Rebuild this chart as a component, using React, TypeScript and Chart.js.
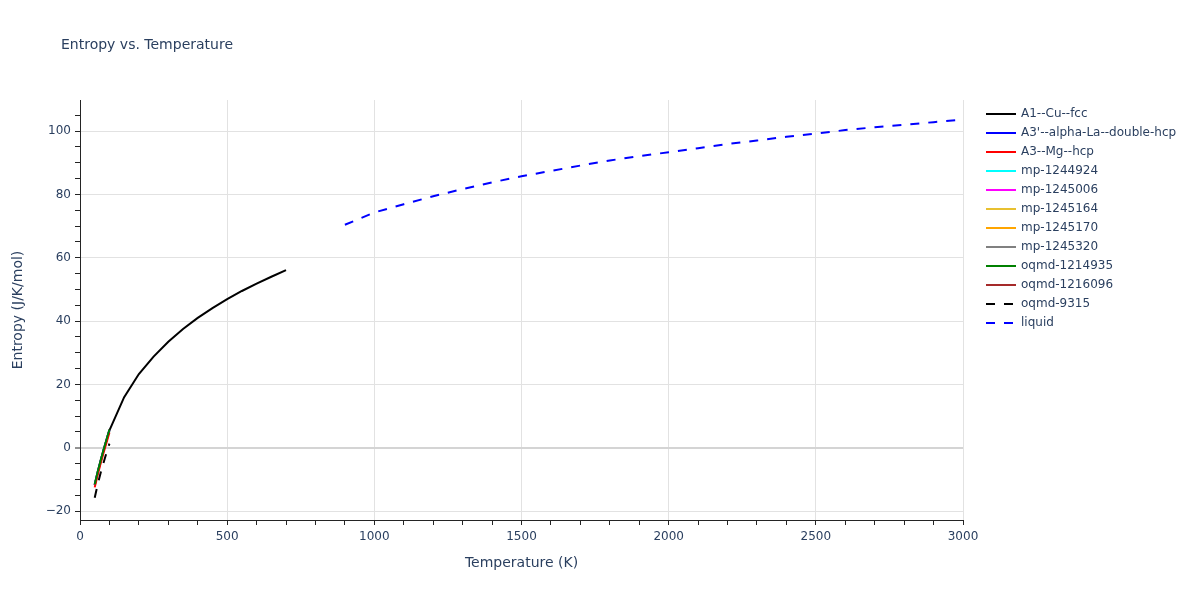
import React, { useEffect, useRef } from 'react';
import { Chart, registerables } from 'chart.js';

Chart.register(...registerables);

const chartTitle = 'Entropy vs. Temperature';
const xAxisTitle = 'Temperature (K)';
const yAxisTitle = 'Entropy (J/K/mol)';

const xMin = 0;
const xMax = 3000;
const yMin = -22.8;
const yMax = 109.8;
const xMinorStep = 100;
const xMajorStep = 500;
const yMinorStep = 5;
const yMajorStep = 20;

const lowTemps = [50, 60, 70, 80, 90, 100];
const a1Temps = [100, 150, 200, 250, 300, 350, 400, 450, 500, 550, 600, 650, 700];
const liquidTemps = [900, 1000, 1100, 1200, 1300, 1400, 1500, 1600, 1700, 1800, 1900, 2000, 2100, 2200, 2300, 2400, 2500, 2600, 2700, 2800, 2900, 3000];

const a1CuFccEntropy = [5.5, 16.0, 23.3, 28.8, 33.5, 37.5, 41.0, 44.1, 46.9, 49.5, 51.8, 54.0, 56.1];
const a3DoubleHcpEntropy = [-11.7, -7.8, -4.2, -0.8, 2.4, 5.6];
const a3MgHcpEntropy = [-12.5, -8.6, -5.0, -1.6, 1.6, 4.8];
const mp1244924Entropy = [-11.8, -7.9, -4.3, -0.9, 2.3, 5.5];
const mp1245006Entropy = [-11.7, -7.8, -4.2, -0.8, 2.4, 5.6];
const mp1245164Entropy = [-11.8, -7.9, -4.3, -0.9, 2.3, 5.5];
const mp1245170Entropy = [-11.7, -7.8, -4.2, -0.8, 2.4, 5.6];
const mp1245320Entropy = [-11.8, -7.9, -4.3, -0.9, 2.3, 5.5];
const oqmd1214935Entropy = [-11.5, -7.6, -4.0, -0.6, 2.6, 5.8];
const oqmd1216096Entropy = [-11.7, -7.8, -4.2, -0.8, 2.4, 5.6];
const oqmd9315Entropy = [-15.8, -11.6, -8.0, -4.7, -1.6, 1.3];
const liquidEntropy = [70.4, 74.3, 76.9, 79.4, 81.7, 83.8, 85.7, 87.4, 89.1, 90.7, 92.1, 93.3, 94.6, 95.9, 97.0, 98.2, 99.2, 100.3, 101.2, 102.0, 102.8, 103.6];

const seriesNames = [
  'A1--Cu--fcc', "A3'--alpha-La--double-hcp", 'A3--Mg--hcp', 'mp-1244924', 'mp-1245006',
  'mp-1245164', 'mp-1245170', 'mp-1245320', 'oqmd-1214935', 'oqmd-1216096', 'oqmd-9315', 'liquid',
];
const seriesColors = [
  '#000000', '#0000ff', '#ff0000', '#00ffff', '#ff00ff',
  '#e8c030', '#ffa500', '#808080', '#008000', '#a52a2a', '#000000', '#0000ff',
];
const seriesDashed = [false, false, false, false, false, false, false, false, false, false, true, true];
const seriesTemps = [a1Temps, lowTemps, lowTemps, lowTemps, lowTemps, lowTemps, lowTemps, lowTemps, lowTemps, lowTemps, lowTemps, liquidTemps];
const seriesValues = [
  a1CuFccEntropy, a3DoubleHcpEntropy, a3MgHcpEntropy, mp1244924Entropy, mp1245006Entropy,
  mp1245164Entropy, mp1245170Entropy, mp1245320Entropy, oqmd1214935Entropy, oqmd1216096Entropy,
  oqmd9315Entropy, liquidEntropy,
];
// drawing order: higher drawn first
const seriesOrder = [4, 3, 2, 3, 3, 3, 3, 3, 1, 3, 0, 0];

const FONT = "'DejaVu Sans', Verdana, sans-serif";
const TEXT = '#2a3f5f';
const AXIS = '#242424';
const GRID = '#e2e2e2';

const CHART_LEFT = 80;
const CHART_RIGHT = 963;
const CHART_TOP = 100;
const CHART_BOTTOM = 520;

function makeTicks(min: number, max: number, step: number) {
  const out: { value: number }[] = [];
  const start = Math.ceil(min / step) * step;
  for (let v = start; v <= max + 1e-9; v += step) out.push({ value: Math.round(v * 1000) / 1000 });
  return out;
}

const decorPlugin = {
  id: 'decor',
  afterDraw(chart: any) {
    const ctx = chart.ctx;
    ctx.save();
    ctx.fillStyle = TEXT;
    ctx.font = `14px ${FONT}`;
    ctx.textAlign = 'left';
    ctx.textBaseline = 'middle';
    ctx.fillText(chartTitle, 61, 45);

    ctx.font = `14px ${FONT}`;
    ctx.textAlign = 'center';
    ctx.fillText(xAxisTitle, (CHART_LEFT + CHART_RIGHT) / 2, 563);
    ctx.save();
    ctx.translate(18, (CHART_TOP + CHART_BOTTOM) / 2);
    ctx.rotate(-Math.PI / 2);
    ctx.fillText(yAxisTitle, 0, 0);
    ctx.restore();

    ctx.font = `12px ${FONT}`;
    ctx.textAlign = 'left';
    seriesNames.forEach((name, i) => {
      const y = 114 + i * 19;
      ctx.beginPath();
      ctx.strokeStyle = seriesColors[i];
      ctx.lineWidth = 2;
      ctx.setLineDash(seriesDashed[i] ? [9, 9] : []);
      ctx.moveTo(986, y);
      ctx.lineTo(1016, y);
      ctx.stroke();
      ctx.setLineDash([]);
      ctx.fillStyle = TEXT;
      ctx.fillText(name, 1021, y);
    });
    ctx.restore();
  },
};

export default function App() {
  const canvasRef = useRef<HTMLCanvasElement | null>(null);

  useEffect(() => {
    if (!canvasRef.current) return;
    const datasets = seriesNames.map((name, i) => ({
      label: name,
      data: seriesTemps[i].map((t, j) => ({ x: t, y: seriesValues[i][j] })),
      borderColor: seriesColors[i],
      backgroundColor: seriesColors[i],
      borderWidth: 2,
      borderDash: seriesDashed[i] ? [9, 9] : [],
      pointRadius: 0,
      tension: 0,
      fill: false,
      order: seriesOrder[i],
    }));

    const chart = new Chart(canvasRef.current, {
      type: 'line',
      data: { datasets },
      plugins: [decorPlugin],
      options: {
        responsive: false,
        animation: false,
        layout: { padding: { top: CHART_TOP, right: 1200 - CHART_RIGHT, left: 0, bottom: 0 } },
        plugins: {
          legend: { display: false },
          title: { display: false },
          tooltip: { enabled: false },
        },
        scales: {
          x: {
            type: 'linear',
            min: xMin,
            max: xMax,
            afterFit: (s: any) => { s.height = 600 - CHART_BOTTOM; },
            afterBuildTicks: (s: any) => { s.ticks = makeTicks(xMin, xMax, xMinorStep); },
            border: { display: true, color: AXIS, width: 1 },
            grid: {
              color: (c: any) => (c.tick && c.tick.value % xMajorStep === 0 && c.tick.value !== 0 ? GRID : 'rgba(0,0,0,0)'),
              tickColor: AXIS,
              tickLength: 5,
              lineWidth: 1,
            },
            ticks: {
              autoSkip: false,
              maxRotation: 0,
              padding: 5,
              color: TEXT,
              font: { family: FONT, size: 12 },
              callback: (v: any) => (Number(v) % xMajorStep === 0 ? String(v) : ''),
            },
          },
          y: {
            type: 'linear',
            min: yMin,
            max: yMax,
            afterFit: (s: any) => { s.width = CHART_LEFT; },
            afterBuildTicks: (s: any) => { s.ticks = makeTicks(yMin, yMax, yMinorStep); },
            border: { display: true, color: AXIS, width: 1 },
            grid: {
              color: (c: any) => {
                if (!c.tick) return 'rgba(0,0,0,0)';
                if (c.tick.value === 0) return '#d4d4d4';
                return c.tick.value % yMajorStep === 0 ? GRID : 'rgba(0,0,0,0)';
              },
              lineWidth: (c: any) => (c.tick && c.tick.value === 0 ? 2 : 1),
              tickColor: AXIS,
              tickWidth: 1,
              tickLength: 5,
            },
            ticks: {
              autoSkip: false,
              padding: 4,
              color: TEXT,
              font: { family: FONT, size: 12 },
              callback: (v: any) => {
                const n = Number(v);
                if (n % yMajorStep !== 0) return '';
                return n < 0 ? '\u2212' + Math.abs(n) : String(n);
              },
            },
          },
        },
      } as any,
    });
    return () => chart.destroy();
  }, []);

  return (
    <div style={{ position: 'fixed', left: 0, top: 0, width: 1200, height: 600, background: '#fff' }}>
      <canvas ref={canvasRef} width={1200} height={600} style={{ width: 1200, height: 600, display: 'block' }} />
    </div>
  );
}
